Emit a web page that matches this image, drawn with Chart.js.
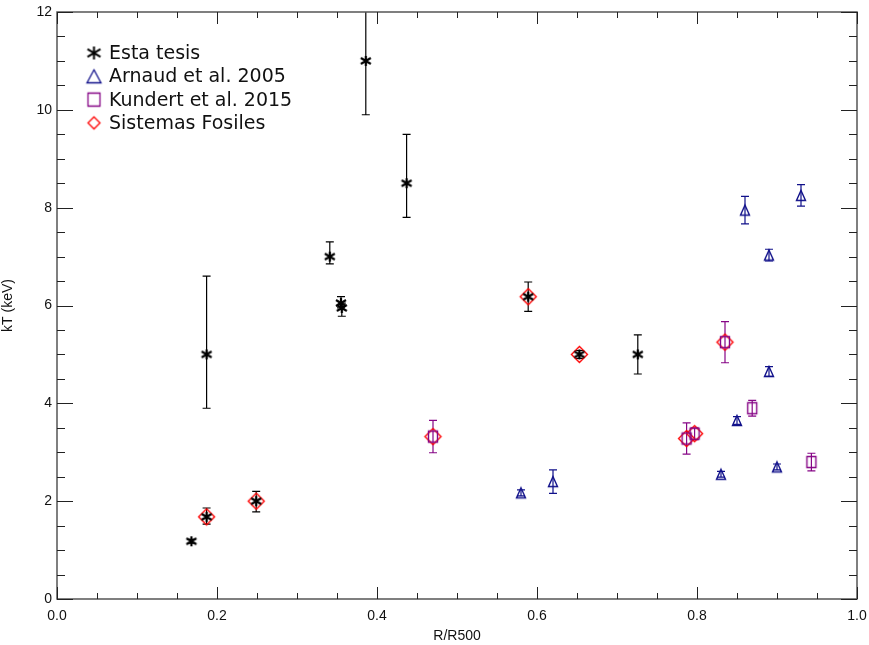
<!DOCTYPE html>
<html>
<head>
<meta charset="utf-8">
<script src="https://cdn.jsdelivr.net/npm/chart.js@4.4.1/dist/chart.umd.min.js"></script>
<style>
  html, body { margin: 0; padding: 0; background: #fff; }
  #wrap { width: 869px; height: 645px; }
</style>
</head>
<body>
<div id="wrap"><canvas id="kt-chart"></canvas></div>
<script>
// Esta tesis
const tesisX = [0.168, 0.187, 0.187, 0.249, 0.341, 0.355, 0.356, 0.386, 0.437, 0.589, 0.653, 0.726];
const tesisY = [1.18, 1.68, 5.0, 2.0, 7.0, 6.05, 5.95, 11.0, 8.5, 6.18, 5.0, 5.0];
const tesisErrLo = [0.04, 0.15, 1.1, 0.22, 0.15, 0.1, 0.17, 1.1, 0.7, 0.3, 0.08, 0.4];
const tesisErrHi = [0.04, 0.18, 1.6, 0.2, 0.3, 0.13, 0.1, 1.1, 1.0, 0.3, 0.08, 0.4];

// Arnaud et al. 2005
const arnaudX = [0.58, 0.62, 0.83, 0.85, 0.86, 0.89, 0.89, 0.90, 0.93];
const arnaudY = [2.17, 2.4, 2.55, 3.65, 7.95, 7.03, 4.65, 2.7, 8.25];
const arnaudErr = [0.06, 0.24, 0.06, 0.08, 0.28, 0.12, 0.1, 0.06, 0.22];

// Kundert et al. 2015
const kundertX = [0.47, 0.787, 0.797, 0.835, 0.869, 0.943];
const kundertY = [3.32, 3.28, 3.38, 5.25, 3.9, 2.8];
const kundertErr = [0.33, 0.32, 0.12, 0.42, 0.16, 0.18];

// Sistemas Fosiles (no error bars of their own)
const fosilesX = [0.187, 0.249, 0.47, 0.589, 0.653, 0.787, 0.797, 0.835];
const fosilesY = [1.68, 2.0, 3.32, 6.18, 5.0, 3.28, 3.38, 5.25];

const xTicks = [0, 0.2, 0.4, 0.6, 0.8, 1.0];
const yTicks = [0, 2, 4, 6, 8, 10, 12];

const BLACK = '#000000';
const NAVY = '#10108a';
const PURPLE = '#860686';
const RED = '#ff0000';

// little canvases used as point styles (and again in the legend)
function makeMarker(kind, w, h, color, lw) {
    const pad = 2;
    const c = document.createElement('canvas');
    c.width = w + pad * 2;
    c.height = h + pad * 2;
    const g = c.getContext('2d');
    g.strokeStyle = color;
    g.lineWidth = lw;
    g.translate(pad, pad);
    g.beginPath();
    if (kind === 'asterisk') {
        g.moveTo(w / 2, 0); g.lineTo(w / 2, h);
        g.moveTo(0, h * 0.2); g.lineTo(w, h * 0.8);
        g.moveTo(0, h * 0.8); g.lineTo(w, h * 0.2);
    } else if (kind === 'triangle') {
        g.moveTo(w / 2, 0.5); g.lineTo(w - 0.5, h - 0.5); g.lineTo(0.5, h - 0.5); g.closePath();
    } else if (kind === 'square') {
        g.rect(0.5, 0.5, w - 1, h - 1);
    } else if (kind === 'diamond') {
        g.moveTo(w / 2, 0.5); g.lineTo(w - 0.5, h / 2); g.lineTo(w / 2, h - 0.5); g.lineTo(0.5, h / 2); g.closePath();
    }
    g.stroke();
    return c;
}

const mkTesis = makeMarker('asterisk', 10, 10, BLACK, 2.2);
const mkArnaud = makeMarker('triangle', 10, 11, NAVY, 1.4);
const mkKundert = makeMarker('square', 10, 12, PURPLE, 1.4);
const mkFosiles = makeMarker('diamond', 17, 17, RED, 1.4);

const legendMarkers = [
    makeMarker('asterisk', 13, 13, BLACK, 2),
    makeMarker('triangle', 15, 14, NAVY, 1.3),
    makeMarker('square', 13, 14, PURPLE, 1.3),
    makeMarker('diamond', 13, 13, RED, 1.3)
];

function toPoints(xs, ys) {
    return xs.map((x, i) => ({ x: x, y: ys[i] }));
}

// vertical error bars with small caps, drawn under the symbols
const errorBars = {
    id: 'errorBars',
    beforeDatasetsDraw(chart) {
        const ctx = chart.ctx;
        const xs = chart.scales.x, ys = chart.scales.y;
        const area = chart.chartArea;
        ctx.save();
        ctx.beginPath();
        ctx.rect(area.left, area.top, area.right - area.left, area.bottom - area.top);
        ctx.clip();
        chart.data.datasets.forEach(ds => {
            if (!ds.errLo) return;
            ctx.strokeStyle = ds.errColor;
            ctx.lineWidth = 1.2;
            ds.data.forEach((p, i) => {
                const px = xs.getPixelForValue(p.x);
                const top = ys.getPixelForValue(p.y + ds.errHi[i]);
                const bot = ys.getPixelForValue(p.y - ds.errLo[i]);
                ctx.beginPath();
                ctx.moveTo(px, top); ctx.lineTo(px, bot);
                ctx.moveTo(px - 4, top); ctx.lineTo(px + 4, top);
                ctx.moveTo(px - 4, bot); ctx.lineTo(px + 4, bot);
                ctx.stroke();
            });
        });
        ctx.restore();
    }
};

// box frame with inward ticks on all four sides, plus the legend
const frame = {
    id: 'frame',
    afterDraw(chart) {
        const ctx = chart.ctx;
        const xs = chart.scales.x, ys = chart.scales.y;
        const a = chart.chartArea;
        ctx.save();
        ctx.strokeStyle = '#555';
        ctx.lineWidth = 1.5;
        ctx.strokeRect(a.left, a.top, a.right - a.left, a.bottom - a.top);
        ctx.strokeStyle = '#222';
        ctx.lineWidth = 1;
        ctx.beginPath();
        for (let k = 0; k <= 20; k++) {
            const px = Math.round(xs.getPixelForValue(k * 0.05)) + 0.5;
            const len = k % 4 === 0 ? 12 : 6;
            ctx.moveTo(px, a.bottom); ctx.lineTo(px, a.bottom - len);
            ctx.moveTo(px, a.top); ctx.lineTo(px, a.top + len);
        }
        for (let k = 0; k <= 24; k++) {
            const py = Math.round(ys.getPixelForValue(k * 0.5)) + 0.5;
            const len = k % 4 === 0 ? 16 : 8;
            ctx.moveTo(a.left, py); ctx.lineTo(a.left + len, py);
            ctx.moveTo(a.right, py); ctx.lineTo(a.right - len, py);
        }
        ctx.stroke();

        ctx.font = '19px "DejaVu Sans"';
        ctx.fillStyle = '#111';
        ctx.textBaseline = 'middle';
        chart.data.datasets.forEach((ds, i) => {
            const cy = 53 + i * 23.3;
            const m = legendMarkers[i];
            ctx.drawImage(m, 94 - m.width / 2, cy - m.height / 2);
            ctx.fillText(ds.label, 109, cy + 1);
        });
        ctx.restore();
    }
};

const tickFont = { family: '"Liberation Sans", "DejaVu Sans", sans-serif', size: 14 };

new Chart(document.getElementById('kt-chart'), {
    type: 'scatter',
    data: {
        datasets: [
            {
                label: 'Esta tesis',
                data: toPoints(tesisX, tesisY),
                pointStyle: mkTesis,
                errLo: tesisErrLo, errHi: tesisErrHi, errColor: BLACK
            },
            {
                label: 'Arnaud et al. 2005',
                data: toPoints(arnaudX, arnaudY),
                pointStyle: mkArnaud,
                errLo: arnaudErr, errHi: arnaudErr, errColor: NAVY
            },
            {
                label: 'Kundert et al. 2015',
                data: toPoints(kundertX, kundertY),
                pointStyle: mkKundert,
                errLo: kundertErr, errHi: kundertErr, errColor: PURPLE
            },
            {
                label: 'Sistemas Fosiles',
                data: toPoints(fosilesX, fosilesY),
                pointStyle: mkFosiles
            }
        ]
    },
    options: {
        responsive: true,
        maintainAspectRatio: false,
        animation: false,
        layout: { padding: { top: 12, right: 12, left: 0, bottom: 0 } },
        plugins: {
            legend: { display: false },
            tooltip: { enabled: false }
        },
        scales: {
            x: {
                type: 'linear',
                min: 0, max: 1,
                grid: { display: false, drawTicks: false },
                border: { display: false },
                afterBuildTicks: s => { s.ticks = xTicks.map(v => ({ value: v })); },
                afterFit: s => { s.height = 46; s.paddingLeft = 0; s.paddingRight = 0; },
                ticks: {
                    padding: 9,
                    color: '#111',
                    font: tickFont,
                    maxRotation: 0,
                    callback: v => v.toFixed(1)
                },
                title: {
                    display: true,
                    text: 'R/R500',
                    color: '#111',
                    font: tickFont,
                    padding: { top: 0, bottom: 0 }
                }
            },
            y: {
                type: 'linear',
                min: 0, max: 12,
                grid: { display: false, drawTicks: false },
                border: { display: false },
                afterBuildTicks: s => { s.ticks = yTicks.map(v => ({ value: v })); },
                afterFit: s => { s.width = 57; s.paddingTop = 0; s.paddingBottom = 0; },
                ticks: {
                    padding: 5,
                    color: '#111',
                    font: tickFont,
                    callback: v => String(v)
                },
                title: {
                    display: true,
                    text: 'kT (keV)',
                    color: '#111',
                    font: tickFont,
                    padding: { top: 0, bottom: 0 }
                }
            }
        }
    },
    plugins: [errorBars, frame]
});
</script>
</body>
</html>
